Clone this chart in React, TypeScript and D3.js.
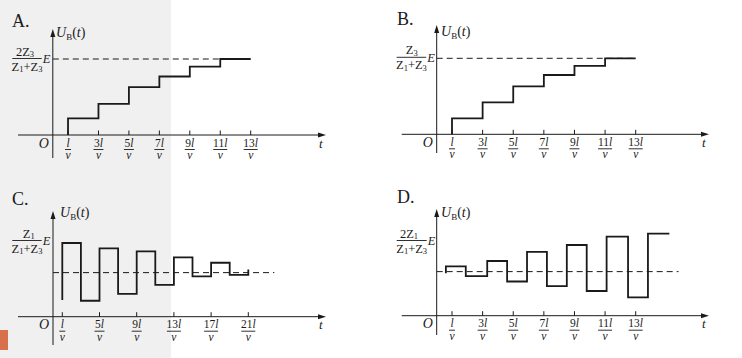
import React from 'react';
import * as d3 from 'd3';

// tick positions (multiples of l/v)
const ticksAB = [1, 3, 5, 7, 9, 11, 13];
const ticksC = [1, 5, 9, 13, 17, 21];
const ticksD = [1, 3, 5, 7, 9, 11, 13];

// step breakpoints (time in l/v) and levels (fraction of reference level)
const timesA = [1, 1, 3, 5, 7, 9, 11, 13];
const levelsA = [0, 0.22, 0.41, 0.63, 0.77, 0.9, 1.0, 1.0];
const timesB = [1, 1, 3, 5, 7, 9, 11, 13];
const levelsB = [0, 0.21, 0.42, 0.63, 0.78, 0.9, 1.0, 1.0];
const timesC = [1, 1, 3, 5, 7, 9, 11, 13, 15, 17, 19, 21];
const levelsC = [0.22, 0.97, 0.21, 0.9, 0.3, 0.86, 0.42, 0.78, 0.53, 0.71, 0.55, 0.62];
const timesD = [0.6, 0.6, 1.9, 3.3, 4.6, 5.9, 7.2, 8.5, 9.8, 11.1, 12.5, 13.8, 15.2];
const levelsD = [0.56, 0.65, 0.52, 0.72, 0.45, 0.84, 0.39, 0.93, 0.325, 1.04, 0.24, 1.08, 1.08];

const letters = ['A.', 'B.', 'C.', 'D.'];
const fracNums = [['2Z', '3'], ['Z', '3'], ['Z', '1'], ['2Z', '1']];
const dashLevels = [1.0, 1.0, 0.58, 0.58];
const dashEnds = [13, 13, 23.8, 15.8];

const FONT = "'Liberation Serif', 'DejaVu Serif', serif";
const INK = '#1a1a1a';

type PanelProps = {
  idx: number;
  ox: number; oy: number;
  tMax: number; xAtMax: number;
  axisLeft: number; axisRight: number;
  yTop: number; yBottom: number;
  ticks: number[];
  times: number[]; levels: number[];
  letterX: number; letterY: number;
  ubX: number; ubY: number;
  frac: { x0: number; x1: number; lineY: number; numCx: number };
};

function Panel(p: PanelProps) {
  const x = d3.scaleLinear().domain([0, p.tMax]).range([p.ox, p.xAtMax]);
  const y = d3.scaleLinear().domain([0, 1]).range([p.oy, p.oy - 76]);
  const pts: [number, number][] = p.times.map((t, i) => [t, p.levels[i]]);
  const line = d3
    .line<[number, number]>()
    .x((d) => x(d[0]))
    .y((d) => y(d[1]))
    .curve(d3.curveStepAfter);
  const dl = dashLevels[p.idx];
  const [nMain, nSub] = fracNums[p.idx];
  const f = p.frac;
  const denCx = (f.x0 + f.x1) / 2;
  return (
    <g fontFamily={FONT} fill={INK}>
      <text x={p.letterX} y={p.letterY} fontSize={18}>{letters[p.idx]}</text>
      {/* axes */}
      <line x1={p.axisLeft} x2={p.axisRight - 6} y1={p.oy} y2={p.oy} stroke={INK} strokeWidth={1} />
      <path d={`M${p.axisRight},${p.oy} L${p.axisRight - 8},${p.oy - 2.5} L${p.axisRight - 8},${p.oy + 2.5} Z`} fill={INK} />
      <line x1={p.ox} x2={p.ox} y1={p.yBottom} y2={p.yTop + 6} stroke={INK} strokeWidth={1} />
      <path d={`M${p.ox},${p.yTop} L${p.ox - 2.5},${p.yTop + 8} L${p.ox + 2.5},${p.yTop + 8} Z`} fill={INK} />
      {/* dashed reference */}
      <line x1={p.ox} x2={x(dashEnds[p.idx])} y1={y(dl)} y2={y(dl)} stroke={INK} strokeWidth={1} strokeDasharray="6,4" />
      {/* waveform */}
      <path d={line(pts) || ''} fill="none" stroke={INK} strokeWidth={1.8} />
      {/* ticks */}
      {p.ticks.map((k) => {
        const tx = x(k);
        const num = k === 1 ? '' : String(k);
        const w = 4 + 4 * num.length;
        return (
          <g key={k}>
            <line x1={tx} x2={tx} y1={p.oy - 4.5} y2={p.oy} stroke={INK} strokeWidth={1} />
            <line x1={tx - w / 2 - 1} x2={tx + w / 2 + 1} y1={p.oy + 14.5} y2={p.oy + 14.5} stroke={INK} strokeWidth={0.9} />
            <text x={tx} y={p.oy + 11.5} fontSize={11.5} textAnchor="middle">
              {num}
              <tspan fontStyle="italic">l</tspan>
            </text>
            <text x={tx} y={p.oy + 24} fontSize={11.5} textAnchor="middle" fontStyle="italic">v</text>
          </g>
        );
      })}
      <text x={p.ox - 14} y={p.oy + 12.5} fontSize={14} fontStyle="italic">O</text>
      <text x={p.axisRight - 7} y={p.oy + 12.5} fontSize={13} fontStyle="italic">t</text>
      {/* U_B(t) */}
      <text x={p.ubX} y={p.ubY} fontSize={14}>
        <tspan fontStyle="italic">U</tspan>
        <tspan fontSize={9} dy={3}>B</tspan>
        <tspan dy={-3}>(</tspan>
        <tspan fontStyle="italic">t</tspan>
        <tspan>)</tspan>
      </text>
      {/* level label */}
      <line x1={f.x0} x2={f.x1} y1={f.lineY} y2={f.lineY} stroke={INK} strokeWidth={0.9} />
      <text x={f.numCx} y={f.lineY - 3} fontSize={12.5} textAnchor="middle">
        {nMain}
        <tspan fontSize={8.5} dy={1.5}>{nSub}</tspan>
      </text>
      <text x={denCx} y={f.lineY + 12} fontSize={12.5} textAnchor="middle">
        Z<tspan fontSize={8.5} dy={1.5}>1</tspan>
        <tspan dy={-1.5}>+Z</tspan>
        <tspan fontSize={8.5} dy={1.5}>3</tspan>
      </text>
      <text x={f.x1 + 1} y={f.lineY + 4.5} fontSize={12.5} fontStyle="italic">E</text>
    </g>
  );
}

export default function App() {
  return (
    <svg
      width={742}
      height={358}
      viewBox="0 0 742 358"
      style={{ position: 'fixed', left: 0, top: 0, background: '#ffffff' }}
    >
      <rect x={0} y={0} width={742} height={358} fill="#ffffff" />
      <rect x={0} y={0} width={171} height={358} fill="#f0f0f0" />
      <rect x={0} y={330} width={8} height={20} fill="#d8704c" />
      <Panel
        idx={0} ox={52.8} oy={135} tMax={13} xAtMax={250.7}
        axisLeft={18} axisRight={326} yTop={29} yBottom={158}
        ticks={ticksAB} times={timesA} levels={levelsA}
        letterX={12} letterY={27} ubX={56} ubY={37}
        frac={{ numCx: 25, x0: 12.3, x1: 41.7, lineY: 58.5 }}
      />
      <Panel
        idx={1} ox={436.7} oy={134.3} tMax={13} xAtMax={635.7}
        axisLeft={401.7} axisRight={709} yTop={25} yBottom={153}
        ticks={ticksAB} times={timesB} levels={levelsB}
        letterX={397} letterY={25} ubX={441} ubY={36}
        frac={{ numCx: 411.7, x0: 396.7, x1: 426.2, lineY: 57.3 }}
      />
      <Panel
        idx={2} ox={53} oy={316.7} tMax={21} xAtMax={248.3}
        axisLeft={18} axisRight={326} yTop={211} yBottom={345}
        ticks={ticksC} times={timesC} levels={levelsC}
        letterX={12} letterY={205} ubX={60} ubY={217}
        frac={{ numCx: 28.8, x0: 12.3, x1: 41.7, lineY: 240.5 }}
      />
      <Panel
        idx={3} ox={436.7} oy={315.7} tMax={13} xAtMax={635.7}
        axisLeft={401.7} axisRight={709} yTop={209} yBottom={335}
        ticks={ticksD} times={timesD} levels={levelsD}
        letterX={397} letterY={203} ubX={441} ubY={217}
        frac={{ numCx: 409, x0: 396.7, x1: 426.7, lineY: 240.5 }}
      />
    </svg>
  );
}
